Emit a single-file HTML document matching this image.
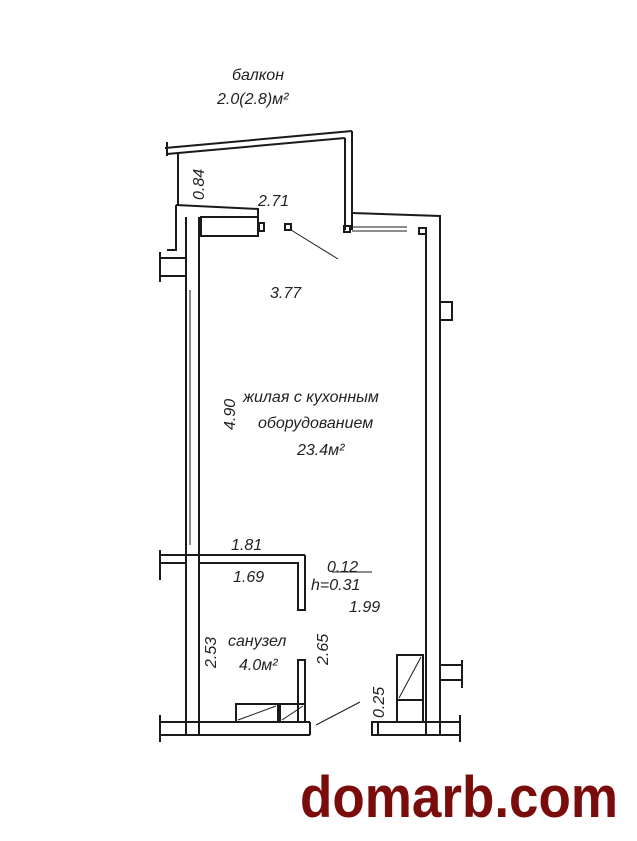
<!DOCTYPE html>
<html><head><meta charset="utf-8"><style>
html,body{margin:0;padding:0;background:#fff;}
svg{display:block}
text{font-family:"Liberation Sans",sans-serif;font-style:italic;fill:#222}
</style></head><body>
<svg width="637" height="841" viewBox="0 0 637 841" xmlns="http://www.w3.org/2000/svg">
<g stroke="#1a1a1a" stroke-width="2" fill="none">
<!-- balcony -->
<line x1="165" y1="148" x2="352" y2="131"/>
<line x1="167" y1="154" x2="345" y2="138"/>
<line x1="167" y1="142" x2="167" y2="156"/>
<line x1="352" y1="131" x2="352" y2="230"/>
<line x1="345" y1="138" x2="345" y2="230"/>
<line x1="178" y1="154" x2="178" y2="205"/>
<!-- top left wall -->
<polyline points="176,205 258,209 258,237"/>
<rect x="201" y="217" width="57" height="19"/>
<polyline points="176,205 176,250 167,250"/>
<line x1="160" y1="258" x2="186" y2="258"/>
<line x1="160" y1="276" x2="186" y2="276"/>
<line x1="160" y1="252" x2="160" y2="282"/>
<rect x="259" y="223" width="5" height="8"/>
<rect x="285" y="224" width="6" height="6"/>
<rect x="344" y="226" width="6" height="6"/>
<line x1="352" y1="227" x2="407" y2="227" stroke-width="1"/>
<line x1="352" y1="231" x2="407" y2="231" stroke-width="1"/>
<line x1="291" y1="230" x2="338" y2="259" stroke-width="1"/>
<!-- left wall -->
<line x1="186" y1="217" x2="186" y2="735"/>
<line x1="199" y1="217" x2="199" y2="735"/>
<line x1="190" y1="290" x2="190" y2="545" stroke-width="1"/>
<!-- right wall -->
<polyline points="352,213 440,216 440,735"/>
<line x1="426" y1="228" x2="426" y2="735"/>
<rect x="419" y="228" width="7" height="6"/>
<rect x="440" y="302" width="12" height="18"/>
<line x1="440" y1="665" x2="462" y2="665"/>
<line x1="440" y1="680" x2="462" y2="680"/>
<line x1="462" y1="660" x2="462" y2="688"/>
<!-- bath wall -->
<line x1="160" y1="555" x2="305" y2="555"/>
<polyline points="199,563 298,563 298,610 305,610 305,555"/>
<line x1="160" y1="550" x2="160" y2="580"/>
<line x1="160" y1="563" x2="186" y2="563"/>
<rect x="298" y="660" width="7" height="62"/>
<!-- bottom walls -->
<line x1="160" y1="722" x2="310" y2="722"/>
<line x1="160" y1="735" x2="310" y2="735"/>
<line x1="160" y1="715" x2="160" y2="742"/>
<line x1="310" y1="722" x2="310" y2="735"/>
<line x1="372" y1="722" x2="460" y2="722"/>
<line x1="372" y1="735" x2="460" y2="735"/>
<rect x="372" y="722" width="6" height="13"/>
<line x1="460" y1="715" x2="460" y2="742"/>
<!-- fixtures -->
<rect x="236" y="704" width="42" height="18"/>
<rect x="280" y="704" width="25" height="18"/>
<line x1="238" y1="720" x2="276" y2="706" stroke-width="1"/>
<line x1="282" y1="720" x2="303" y2="706" stroke-width="1"/>
<rect x="397" y="655" width="26" height="45"/>
<rect x="397" y="700" width="26" height="22"/>
<line x1="399" y1="698" x2="421" y2="657" stroke-width="1"/>
<line x1="316" y1="725" x2="360" y2="702" stroke-width="1"/>
<line x1="332" y1="572" x2="372" y2="572" stroke-width="1"/>
</g>
<text x="232" y="80" font-size="16">балкон</text>
<text x="217" y="104" font-size="16">2.0(2.8)м²</text>
<text x="258" y="206" font-size="16">2.71</text>
<text x="270" y="298" font-size="16">3.77</text>
<text transform="translate(204,200) rotate(-90)" font-size="16">0.84</text>
<text transform="translate(235,430) rotate(-90)" font-size="16">4.90</text>
<text x="243" y="402" font-size="16">жилая с кухонным</text>
<text x="258" y="428" font-size="16">оборудованием</text>
<text x="297" y="455" font-size="16">23.4м²</text>
<text x="231" y="550" font-size="16">1.81</text>
<text x="233" y="582" font-size="16">1.69</text>
<text x="327" y="572" font-size="16">0.12</text>
<text x="311" y="590" font-size="16">h=0.31</text>
<text x="349" y="612" font-size="16">1.99</text>
<text transform="translate(216,668) rotate(-90)" font-size="16">2.53</text>
<text x="228" y="646" font-size="16">санузел</text>
<text x="239" y="670" font-size="16">4.0м²</text>
<text transform="translate(328,665) rotate(-90)" font-size="16">2.65</text>
<text transform="translate(384,718) rotate(-90)" font-size="16">0.25</text>
<text x="300" y="817" font-size="58" font-weight="bold" font-style="normal" textLength="318" lengthAdjust="spacingAndGlyphs" style="fill:#7a0c0c;font-style:normal">domarb.com</text>
</svg>
</body></html>
